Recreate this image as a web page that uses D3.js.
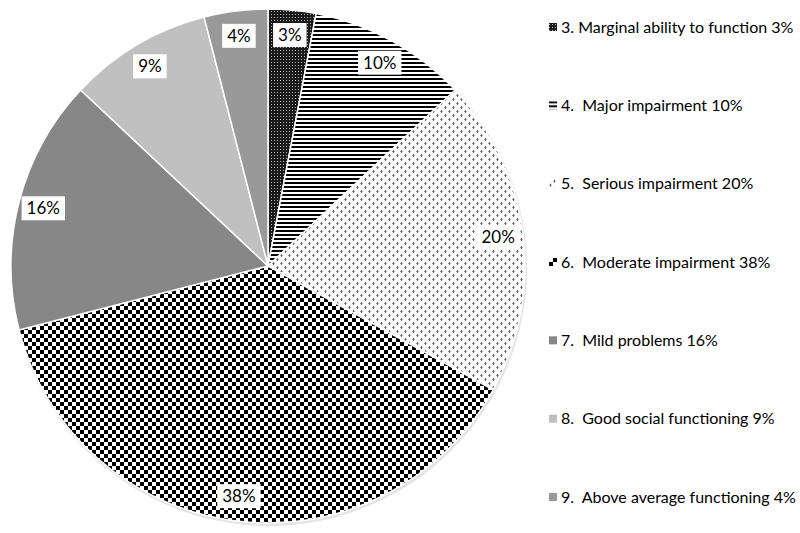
<!DOCTYPE html>
<html><head><meta charset="utf-8">
<script src="https://cdn.jsdelivr.net/npm/d3@7"></script>
<style>body{margin:0;background:#fff}svg{display:block}</style>
</head><body>
<svg id="c" width="800" height="533"></svg>
<script>
const categories = ["3. Marginal ability to function 3%","4.  Major impairment 10%","5.  Serious impairment 20%","6.  Moderate impairment 38%","7.  Mild problems 16%","8.  Good social functioning 9%","9.  Above average functioning 4%"];
const values = [3,10,20,38,16,9,4];
const sliceLabels = ["3%","10%","20%","38%","16%","9%","4%"];

const svg = d3.select("#c");
const defs = svg.append("defs");

function pat(id,w,h){return defs.append("pattern").attr("id",id).attr("patternUnits","userSpaceOnUse").attr("width",w).attr("height",h);}
let p;
p = pat("p3",3,3); p.append("rect").attr("width",3).attr("height",3).attr("fill","#1a1a1a"); p.append("rect").attr("width",1).attr("height",1).attr("fill","#bbb");
p = pat("p4",4,4); p.append("rect").attr("width",4).attr("height",4).attr("fill","#fff"); p.append("rect").attr("width",4).attr("height",2).attr("fill","#000");
p = pat("p5",8,8); p.append("rect").attr("width",8).attr("height",8).attr("fill","#fff");
[[0,0],[4,4]].forEach(([x,y])=>{
  p.append("rect").attr("x",x+1).attr("y",y).attr("width",1).attr("height",3).attr("fill","#666");
  p.append("rect").attr("x",x).attr("y",y+1).attr("width",1).attr("height",1).attr("fill","#999");
  p.append("rect").attr("x",x+2).attr("y",y+1).attr("width",1).attr("height",1).attr("fill","#aaa");
});
p = pat("p6",8,8); p.append("rect").attr("width",8).attr("height",8).attr("fill","#fff");
p.append("rect").attr("width",4).attr("height",4).attr("fill","#000"); p.append("rect").attr("x",4).attr("y",4).attr("width",4).attr("height",4).attr("fill","#000");
const fills = ["url(#p3)","url(#p4)","url(#p5)","url(#p6)","#878787","#c0c0c0","#999999"];

const cx = 268, cy = 266, R = 257;
const g = svg.append("g").attr("transform",`translate(${cx},${cy})`);
const pie = d3.pie().sort(null).value(d=>d)(values);
const arc = d3.arc().innerRadius(0).outerRadius(R);

g.append("circle").attr("cx",1).attr("cy",2).attr("r",R+1).attr("fill","#e4e4e4");
g.selectAll("path.s").data(pie).join("path").attr("class","s")
  .attr("d",arc).attr("fill",(d,i)=>fills[i]).attr("stroke","#fff").attr("stroke-width",1.5);

const lr = 232;
const lab = g.selectAll("g.l").data(pie).join("g").attr("class","l")
  .attr("transform",d=>{const a=(d.startAngle+d.endAngle)/2;return `translate(${lr*Math.sin(a)},${-lr*Math.cos(a)})`;});
lab.append("text").attr("text-anchor","middle").attr("dy","0.36em")
  .attr("font-family","Lato, 'Open Sans', sans-serif").attr("font-size",17).attr("fill","#000")
  .text((d,i)=>sliceLabels[i]);
lab.each(function(){const t=d3.select(this).select("text");const b=t.node().getBBox();
  d3.select(this).insert("rect","text").attr("x",b.x-5).attr("y",-12).attr("width",b.width+10).attr("height",24).attr("fill","#fff");});

const ly = d3.scalePoint().domain(d3.range(categories.length)).range([27,497]);
const leg = svg.append("g").selectAll("g").data(categories).join("g")
  .attr("transform",(d,i)=>`translate(549,${ly(i)})`);
leg.append("rect").attr("x",0).attr("y",-4).attr("width",8).attr("height",8).attr("fill",(d,i)=>fills[i]);
leg.append("text").attr("x",12).attr("dy","0.36em").attr("xml:space","preserve").style("white-space","pre")
  .attr("font-family","Lato, 'Open Sans', sans-serif").attr("font-size",16).attr("fill","#000").text(d=>d);
</script>
</body></html>
